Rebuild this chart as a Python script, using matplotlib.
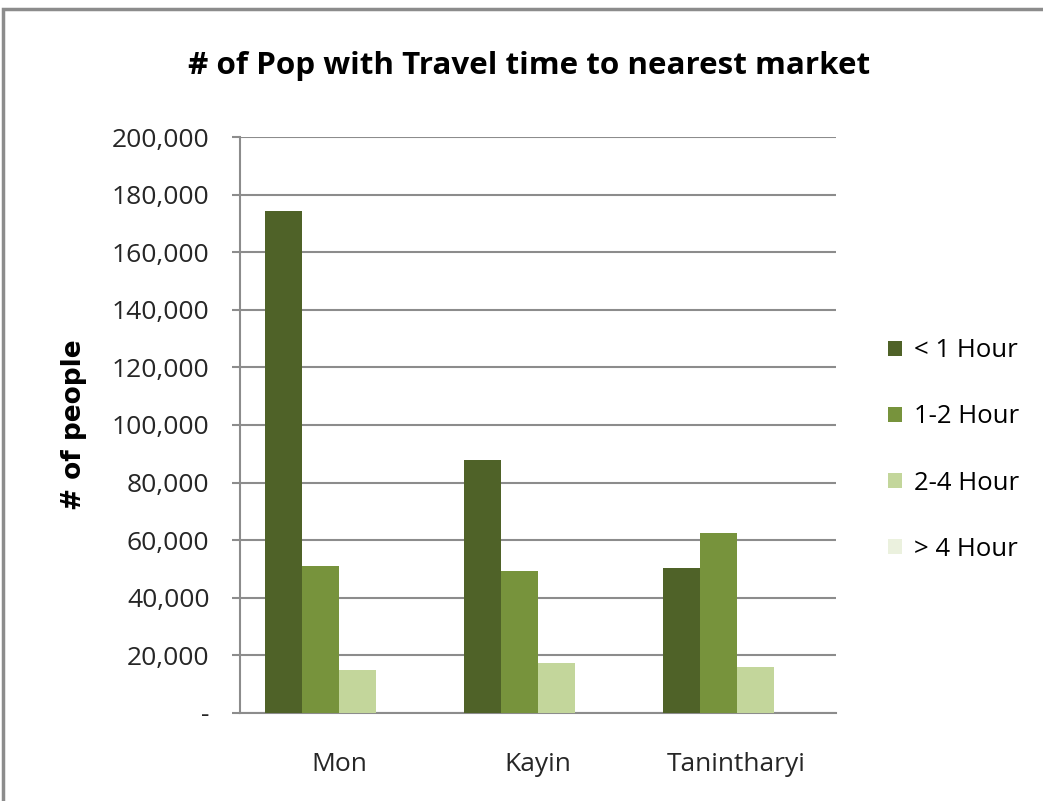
import matplotlib
matplotlib.use("Agg")
import matplotlib.pyplot as plt
import numpy as np
from matplotlib.patches import Rectangle
from matplotlib.ticker import FuncFormatter

categories = ["Mon", "Kayin", "Tanintharyi"]
series_names = ["< 1 Hour", "1-2 Hour", "2-4 Hour", "> 4 Hour"]
lt1 = [174300, 87800, 50300]
h12 = [51000, 49300, 62500]
h24 = [14900, 17400, 16100]
gt4 = [0, 0, 0]
colors = ["#4F6228", "#77933C", "#C3D69B", "#EBF1DE"]

plt.rcParams['font.family'] = ['Open Sans', 'DejaVu Sans']

W, H = 1043, 801
fig = plt.figure(figsize=(W/100, H/100), dpi=100)
ax = fig.add_axes([240/W, 1-713/H, (836-240)/W, (713-137)/H])

values = [lt1, h12, h24, gt4]
x = np.arange(len(categories))
bw = 37/198.7
for i, (vals, c, name) in enumerate(zip(values, colors, series_names)):
    ax.bar(x + (i - 1.5)*bw, vals, width=bw, color=c, label=name, zorder=3)

ax.set_xlim(-0.5, 2.5)
ax.set_ylim(0, 200000)
ax.set_yticks(np.arange(0, 200001, 20000))
ax.yaxis.set_major_formatter(FuncFormatter(lambda v, p: "-" if v == 0 else f"{int(v):,}"))
ax.set_xticks(x)
ax.set_xticklabels(categories)
ax.grid(axis='y', color='#8C8C8C', linewidth=1.5, zorder=0)
for s in ['top', 'right']:
    ax.spines[s].set_visible(False)
ax.spines['left'].set_color('#8C8C8C')
ax.spines['left'].set_linewidth(1.5)
ax.spines['bottom'].set_color('#8C8C8C')
ax.spines['bottom'].set_linewidth(1.5)
ax.tick_params(axis='y', length=6, color='#8C8C8C', width=1.5, labelsize=19, pad=16, labelcolor='#262626')
ax.tick_params(axis='x', length=0, labelsize=19, pad=28, labelcolor='#262626')
ax.set_ylabel("# of people", fontsize=19, fontweight='bold', labelpad=18, family=['DejaVu Sans'])

fig.text(529/W, 1-66/H, "# of Pop with Travel time to nearest market", ha='center', va='center',
         fontsize=22.6, fontweight='bold')

handles, labels = ax.get_legend_handles_labels()
fig.legend(handles, labels, loc='center left', bbox_to_anchor=(865/W, 1-450/H), frameon=False,
           fontsize=18.5, handlelength=0.55, handleheight=0.55, handletextpad=0.45, labelspacing=1.6)

fig.patches.append(Rectangle((3/W, -0.01), 1.02, 1-9/H+0.01, transform=fig.transFigure,
                             fill=False, edgecolor='#8C8C8C', linewidth=2.5))

fig.savefig("out.png", dpi=100)
